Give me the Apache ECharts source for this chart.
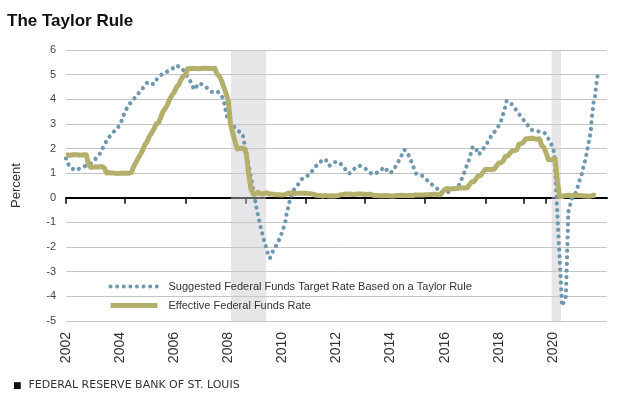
<!DOCTYPE html>
<html>
<head>
<meta charset="UTF-8">
<title>The Taylor Rule</title>
<script src="https://cdn.jsdelivr.net/npm/echarts@6/dist/echarts.min.js"></script>
<style>
  html, body { margin: 0; padding: 0; background: #fff; }
  #chart { width: 620px; height: 398px; }
</style>
</head>
<body>
<div id="chart"></div>
<script>
// effective federal funds rate, monthly from Jan 2002
var effrStart = 2002;
var effr = [
  1.73, 1.74, 1.73, 1.75, 1.75, 1.75, 1.73, 1.74, 1.75, 1.75, 1.34, 1.24, // 2002
  1.24, 1.26, 1.25, 1.26, 1.26, 1.22, 1.01, 1.03, 1.01, 1.01, 1.00, 0.98, // 2003
  1.00, 1.01, 1.00, 1.00, 1.00, 1.03, 1.26, 1.43, 1.61, 1.76, 1.93, 2.16, // 2004
  2.28, 2.50, 2.63, 2.79, 3.00, 3.04, 3.26, 3.50, 3.62, 3.78, 4.00, 4.16, // 2005
  4.29, 4.49, 4.59, 4.79, 4.94, 4.99, 5.24, 5.25, 5.25, 5.25, 5.25, 5.24, // 2006
  5.25, 5.26, 5.26, 5.25, 5.25, 5.25, 5.26, 5.02, 4.94, 4.76, 4.49, 4.24, // 2007
  3.94, 2.98, 2.61, 2.28, 1.98, 2.00, 2.01, 2.00, 1.81, 0.97, 0.39, 0.16, // 2008
  0.15, 0.22, 0.18, 0.15, 0.18, 0.21, 0.16, 0.16, 0.15, 0.12, 0.12, 0.12, // 2009
  0.11, 0.13, 0.16, 0.20, 0.20, 0.18, 0.18, 0.19, 0.19, 0.19, 0.19, 0.18, // 2010
  0.17, 0.16, 0.14, 0.10, 0.09, 0.09, 0.07, 0.10, 0.08, 0.07, 0.08, 0.07, // 2011
  0.08, 0.10, 0.13, 0.14, 0.16, 0.16, 0.16, 0.13, 0.14, 0.16, 0.16, 0.16, // 2012
  0.14, 0.15, 0.14, 0.15, 0.11, 0.09, 0.09, 0.08, 0.08, 0.09, 0.08, 0.09, // 2013
  0.07, 0.07, 0.08, 0.09, 0.09, 0.10, 0.09, 0.09, 0.09, 0.09, 0.09, 0.12, // 2014
  0.11, 0.11, 0.11, 0.12, 0.12, 0.13, 0.13, 0.14, 0.14, 0.12, 0.12, 0.24, // 2015
  0.34, 0.38, 0.36, 0.37, 0.37, 0.38, 0.39, 0.40, 0.40, 0.40, 0.41, 0.54, // 2016
  0.65, 0.66, 0.79, 0.90, 0.91, 1.04, 1.15, 1.16, 1.15, 1.15, 1.16, 1.30, // 2017
  1.41, 1.42, 1.51, 1.69, 1.70, 1.82, 1.91, 1.91, 1.95, 2.19, 2.20, 2.27, // 2018
  2.40, 2.40, 2.41, 2.42, 2.39, 2.38, 2.40, 2.13, 2.04, 1.83, 1.55, 1.55, // 2019
  1.55, 1.58, 0.65, 0.05, 0.05, 0.08, 0.09, 0.10, 0.09, 0.09, 0.09, 0.09, // 2020
  0.09, 0.08, 0.07, 0.07, 0.06, 0.08, 0.10, 0.09                          // 2021
];

// taylor rule path (decimal year, percent)
var taylorT = [
  2002.00, 2002.12, 2002.33, 2002.59, 2002.90, 2003.08, 2003.27, 2003.39, 2003.54, 2003.72,
  2003.93, 2004.06, 2004.16, 2004.30, 2004.49, 2004.67, 2004.86, 2005.02, 2005.24, 2005.42,
  2005.63, 2005.88, 2006.09, 2006.31, 2006.62, 2006.74, 2006.93, 2007.15, 2007.38, 2007.60,
  2007.77, 2007.85, 2007.91, 2007.97, 2008.28, 2008.53, 2008.59, 2008.88, 2008.96, 2009.08,
  2009.15, 2009.21, 2009.29, 2009.37, 2009.45, 2009.54, 2009.66, 2009.80, 2009.92, 2010.03,
  2010.11, 2010.16, 2010.23, 2010.29, 2010.41, 2010.59, 2010.75, 2010.99, 2011.18, 2011.36,
  2011.59, 2011.73, 2011.92, 2012.10, 2012.29, 2012.47, 2012.66, 2012.84, 2013.09, 2013.31,
  2013.56, 2013.77, 2013.95, 2014.07, 2014.26, 2014.42, 2014.51, 2014.63, 2014.75, 2014.94,
  2015.18, 2015.40, 2015.62, 2015.80, 2015.99, 2016.10, 2016.30, 2016.50, 2016.56, 2016.66,
  2016.76, 2016.88, 2016.97, 2017.03, 2017.13, 2017.26, 2017.40, 2017.57, 2017.71, 2017.90,
  2018.06, 2018.14, 2018.23, 2018.29, 2018.47, 2018.66, 2018.84, 2019.03, 2019.21, 2019.43,
  2019.68, 2019.84, 2019.97, 2020.05, 2020.34, 2020.48, 2020.57, 2020.71, 2020.88, 2020.95,
  2021.06, 2021.13, 2021.20, 2021.26, 2021.32, 2021.37, 2021.41, 2021.43, 2021.47, 2021.50,
  2021.56, 2021.59, 2021.63, 2021.68
];
var taylorV = [
  1.60, 1.27, 1.11, 1.23, 1.38, 1.57, 1.82, 2.09, 2.39, 2.63,
  2.87, 3.14, 3.44, 3.75, 3.98, 4.23, 4.48, 4.70, 4.61, 4.91,
  5.07, 5.20, 5.38, 5.23, 4.69, 4.39, 4.66, 4.52, 4.30, 4.32,
  4.12, 3.85, 3.51, 3.20, 2.79, 2.59, 2.22, 0.60, 0.05, -0.62,
  -0.96, -1.27, -1.60, -1.91, -2.22, -2.45, -2.14, -1.88, -1.60, -1.27,
  -0.96, -0.62, -0.33, 0.00, 0.30, 0.56, 0.80, 0.93, 1.21, 1.44,
  1.57, 1.30, 1.45, 1.45, 1.21, 0.98, 1.18, 1.31, 1.17, 0.96,
  1.04, 1.25, 1.00, 1.07, 1.41, 1.75, 1.95, 1.82, 1.52, 0.98,
  0.89, 0.66, 0.46, 0.30, 0.16, 0.22, 0.35, 0.45, 0.53, 0.84,
  1.14, 1.48, 1.82, 2.06, 2.06, 1.75, 1.95, 2.22, 2.49, 2.76,
  3.04, 3.33, 3.65, 3.94, 3.81, 3.54, 3.26, 3.00, 2.76, 2.70,
  2.65, 2.39, 2.11, 1.82, -4.39, -4.01, -0.56, 0.00, 0.26, 0.60,
  0.93, 1.27, 1.54, 1.88, 2.22, 2.49, 2.83, 3.17, 3.51, 3.85,
  4.12, 4.46, 4.80, 5.11
];

// recession bands
var recStart = [2008.1, 2019.95];
var recEnd = [2009.4, 2020.3];

// odd tick marks sitting on the zero line
var zeroTicks = [2002, 2004.19, 2006.41, 2008.63, 2010.85, 2013.06, 2015.28, 2017.5, 2018.94, 2019.75];

var nameTaylor = 'Suggested Federal Funds Target Rate Based on a Taylor Rule';
var nameEffr = 'Effective Federal Funds Rate';

var effrData = [];
for (var i = 0; i < effr.length; i++) {
  effrData.push([effrStart + i / 12, effr[i]]);
}
var taylorData = [];
for (var j = 0; j < taylorT.length; j++) {
  taylorData.push([taylorT[j], taylorV[j]]);
}
var bands = [];
for (var k = 0; k < recStart.length; k++) {
  bands.push([{ xAxis: recStart[k] }, { xAxis: recEnd[k] }]);
}

var chart = echarts.init(document.getElementById('chart'));
var option = {
  animation: false,
  textStyle: { fontFamily: 'Liberation Sans, Arial, sans-serif' },
  title: [
    {
      text: 'The Taylor Rule',
      left: 2, top: 8,
      textStyle: { fontFamily: 'Liberation Sans', fontWeight: 'bold', fontSize: 17, color: '#111' }
    },
    {
      text: '{sq|■}  FEDERAL RESERVE BANK OF ST. LOUIS',
      left: 8, top: 375,
      textStyle: {
        fontFamily: 'DejaVu Sans', fontWeight: 'normal', fontSize: 11, color: '#333',
        rich: { sq: { fontSize: 9, color: '#111' } }
      }
    }
  ],
  legend: {
    data: [
      { name: nameTaylor, itemStyle: { opacity: 0 }, lineStyle: { width: 4 } },
      { name: nameEffr, itemStyle: { opacity: 0 }, lineStyle: { width: 5 } }
    ],
    orient: 'vertical',
    left: 103, top: 276,
    itemWidth: 47, itemHeight: 12, itemGap: 8,
    textStyle: { fontSize: 11, color: '#333', padding: [0, 0, 0, 6] }
  },
  grid: { left: 66, right: 13, top: 50, bottom: 77, containLabel: false, outerBoundsMode: 'none' },
  xAxis: [
    {
      // year labels along the bottom
      type: 'value', position: 'bottom',
      min: 2002, max: 2022, interval: 2,
      axisLine: { show: false, onZero: false },
      axisTick: { show: false },
      axisLabel: {
        rotate: 90, margin: 11, fontSize: 14, color: '#333', showMaxLabel: false,
        formatter: function (v) { return String(v); }
      },
      splitLine: { show: false }
    },
    {
      // black zero line with its ticks
      type: 'value', position: 'top',
      min: 2002, max: 2022,
      axisLine: { show: true, onZero: true, lineStyle: { color: '#000', width: 2 } },
      axisTick: { show: true, inside: true, customValues: zeroTicks, length: 6, lineStyle: { color: '#000', width: 1.5 } },
      axisLabel: { show: false },
      splitLine: { show: false }
    }
  ],
  yAxis: {
    type: 'value',
    min: -5, max: 6, interval: 1,
    name: 'Percent', nameLocation: 'middle', nameGap: 43,
    nameTextStyle: { fontSize: 13, color: '#333' },
    axisLine: { show: false },
    axisTick: { show: false },
    axisLabel: { fontSize: 11, color: '#444', margin: 10 },
    splitLine: { lineStyle: { color: '#c6c6c6', width: 1 } }
  },
  series: [
    {
      name: nameTaylor,
      type: 'line',
      data: taylorData,
      showSymbol: false,
      symbol: 'none',
      color: '#6e98ad',
      lineStyle: { color: '#6e98ad', width: 4.2, type: [0.01, 6.6], cap: 'round' },
      markArea: {
        silent: true,
        itemStyle: { color: 'rgba(200,200,206,0.45)' },
        data: bands
      },
      z: 2
    },
    {
      name: nameEffr,
      type: 'line',
      data: effrData,
      showSymbol: false,
      symbol: 'none',
      color: '#b4b06c',
      lineStyle: { color: '#b4b06c', width: 5, join: 'round' },
      z: 3
    }
  ]
};
chart.setOption(option);
</script>
</body>
</html>
